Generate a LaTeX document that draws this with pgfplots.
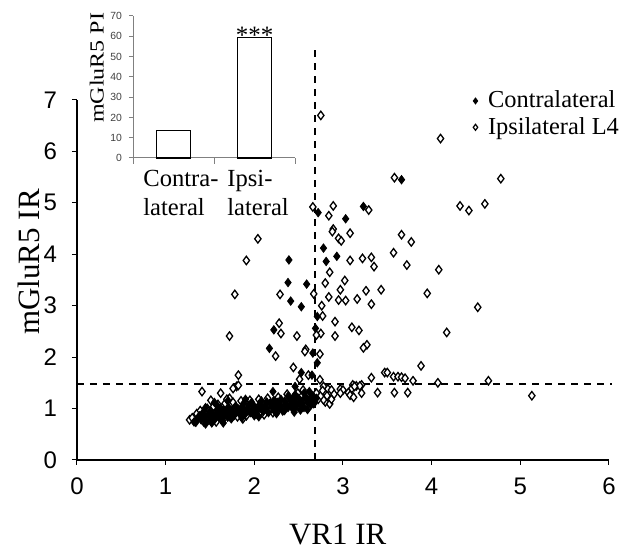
\documentclass[border=0pt]{standalone}
\usepackage{pgfplots}
\usepackage{pgfplotstable}
\usepackage{fontspec}
\setmainfont{Liberation Serif}
\setsansfont{Liberation Sans}
\pgfplotsset{compat=1.18}
\pgfplotsset{markleg/.style={legend image code/.code={\draw[##1] plot coordinates {(0pt,0pt)}; \path (-2pt,0pt) (4.5pt,0pt);}}}

\pgfplotstableread{
x y
3.66 5.45
2.72 4.81
3.03 4.69
3.23 4.93
2.78 4.12
2.93 3.96
2.81 3.86
2.39 3.89
2.38 3.45
2.59 3.42
2.41 3.09
2.53 2.98
2.71 2.79
2.69 2.56
2.22 2.53
2.17 2.17
2.66 2.08
2.71 1.89
2.53 1.70
2.65 1.65
2.46 1.43
2.21 1.33
1.34 0.73
1.32 0.74
1.36 0.80
1.38 0.86
1.40 0.78
1.42 0.92
1.44 0.84
1.46 0.76
1.48 0.88
1.50 0.95
1.51 0.82
1.53 0.90
1.55 0.78
1.56 0.86
1.58 0.96
1.60 0.84
1.61 0.92
1.63 0.80
1.65 0.98
1.66 0.88
1.68 0.94
1.70 0.83
1.71 1.02
1.73 0.90
1.75 0.97
1.77 0.86
1.79 1.05
1.80 0.93
1.82 0.99
1.84 0.88
1.86 1.03
1.88 0.95
1.90 0.90
1.92 1.00
1.94 1.07
1.96 0.92
1.98 0.98
2.00 1.04
2.02 0.89
2.04 0.97
2.06 1.08
2.08 1.00
2.10 0.94
2.12 1.06
2.14 1.01
2.16 0.92
2.18 1.10
2.20 1.03
2.22 0.97
2.24 1.08
2.26 1.12
2.28 1.00
2.30 1.05
2.32 0.95
2.34 1.14
2.36 1.07
2.38 1.02
2.40 1.17
2.42 1.10
2.44 0.98
2.46 1.13
2.48 1.05
2.50 1.20
2.52 1.09
2.54 1.15
2.56 1.02
2.58 1.22
2.60 1.12
2.62 1.17
2.64 1.07
2.66 1.25
2.68 1.14
2.70 1.20
2.38 1.24
2.30 1.18
2.22 1.16
2.14 1.13
2.46 1.27
2.56 1.30
2.62 1.33
1.97 1.12
1.88 1.10
2.08 1.15
2.52 0.97
2.44 1.22
1.74 0.80
1.62 1.00
1.52 0.72
1.45 1.02
1.58 1.06
1.86 0.82
2.00 0.86
2.34 0.96
1.55 1.12
1.70 1.15
1.90 1.18
2.05 0.84
2.25 0.90
2.45 0.93
2.60 0.98
1.45 0.70
1.65 0.72
}\contra

\pgfplotstableread{
x y
2.75 6.70
4.10 6.25
3.58 5.49
4.78 5.47
2.66 4.92
2.89 4.94
3.29 4.86
4.32 4.94
4.42 4.85
4.60 4.98
2.84 4.75
2.89 4.49
2.88 4.44
3.08 4.41
3.66 4.38
2.95 4.31
2.98 4.26
2.04 4.30
3.77 4.24
3.57 4.03
3.32 3.94
3.22 3.92
3.08 3.88
1.91 3.88
3.72 3.79
3.35 3.76
4.08 3.70
2.85 3.65
3.02 3.49
2.80 3.44
2.97 3.31
3.26 3.29
3.43 3.31
2.67 3.23
1.78 3.22
2.29 3.22
3.95 3.24
2.84 3.17
2.95 3.11
3.03 3.10
3.16 3.13
3.32 3.03
2.76 3.00
4.52 2.97
2.77 2.80
2.91 2.69
2.28 2.66
3.10 2.58
3.18 2.52
4.17 2.48
2.75 2.46
2.30 2.46
2.48 2.41
1.72 2.41
2.91 2.41
2.70 2.43
3.27 2.24
3.23 2.18
2.58 2.15
2.57 2.11
2.24 2.02
2.74 2.06
3.88 1.83
2.44 1.80
1.82 1.65
2.61 1.65
3.47 1.70
3.50 1.70
3.57 1.62
3.62 1.62
3.66 1.61
3.70 1.59
3.32 1.60
2.51 1.57
2.74 1.56
3.79 1.54
4.64 1.54
4.07 1.50
3.21 1.46
3.11 1.46
3.15 1.44
3.19 1.44
1.80 1.43
1.76 1.39
1.82 1.45
2.78 1.43
2.83 1.38
2.87 1.36
2.97 1.38
3.00 1.36
3.10 1.39
3.13 1.43
3.39 1.31
3.58 1.31
3.73 1.31
3.21 1.30
2.97 1.30
3.06 1.31
3.08 1.26
3.12 1.22
5.13 1.25
1.41 1.33
2.55 1.36
1.62 1.30
1.72 1.20
2.80 1.13
2.85 1.09
2.87 1.18
2.78 1.17
1.27 0.78
1.30 0.82
1.35 0.90
1.39 0.96
1.43 0.74
1.47 1.00
1.50 0.86
1.54 1.04
1.57 0.74
1.59 1.08
1.64 0.77
1.67 1.10
1.72 0.85
1.76 1.12
1.81 0.84
1.85 1.15
1.91 0.86
1.95 1.16
2.01 0.95
2.05 1.18
2.11 0.88
2.15 1.20
2.21 0.92
2.27 1.22
2.33 1.00
2.37 1.28
2.43 1.04
2.49 1.30
2.53 1.10
2.59 1.05
2.63 1.24
2.67 1.10
2.70 1.30
2.72 1.18
2.75 1.25
2.77 1.35
2.82 1.25
2.90 1.28
1.51 1.16
1.69 1.18
1.87 0.80
}\ipsi

\begin{document}
\begin{tikzpicture}
\path[use as bounding box] (0,0) rectangle (311pt,275.5pt);
\begin{axis}[
  at={(38.5pt,45.5pt)}, anchor=south west,
  scale only axis, width=266pt, height=180pt,
  xmin=0, xmax=6, ymin=0, ymax=7,
  xtick={0,1,...,6}, ytick={0,1,...,7},
  axis x line*=bottom, axis y line*=left,
  axis line style={line width=0.6pt, black},
  tick align=outside, major tick length=2.5pt,
  tick style={line width=0.5pt, black},
  /pgf/number format/assume math mode=true,
  tick label style={font=\sffamily\fontsize{12}{12}\selectfont},
  xticklabel style={yshift=-3pt},
  yticklabel style={xshift=-4pt},
  clip=false,
  legend style={at={(axis description cs:0.74,1.035)}, anchor=north west, draw=none, fill=none,
    font=\fontsize{12.2}{12.2}\selectfont, row sep=0pt, inner sep=0pt,
    nodes={inner sep=1.6pt}, cells={anchor=west}},
]
\addlegendimage{only marks, mark=diamond*, mark size=1.5pt, black, markleg}
\addlegendentry{Contralateral}
\addlegendimage{only marks, mark=diamond*, mark size=1.5pt, mark options={fill=white, draw=black, line width=0.6pt}, markleg}
\addlegendentry{Ipsilateral L4}
\addplot[forget plot, only marks, mark=diamond*, mark size=2.1pt, mark options={fill=white, draw=black, line width=0.65pt}] table[x=x,y=y] {\ipsi};
\addplot[forget plot, only marks, mark=diamond*, mark size=2.1pt, black] table[x=x,y=y] {\contra};
\addplot[forget plot, black, line width=1pt, dash pattern=on 3.5pt off 3pt] coordinates {(2.68,0) (2.68,8.07)};
\addplot[forget plot, black, line width=1pt, dash pattern=on 3.5pt off 3pt] coordinates {(0,1.48) (6.03,1.48)};
\node[font=\fontsize{15.5}{15.5}\selectfont] at (axis description cs:0.49,-0.208) {VR1 IR};
\node[rotate=90, font=\fontsize{15.5}{15.5}\selectfont] at (axis description cs:-0.09,0.55) {mGluR5 IR};
\end{axis}

\begin{axis}[
  at={(66.5pt,196.5pt)}, anchor=south west,
  scale only axis, width=81pt, height=71pt,
  xmin=0, xmax=2, ymin=0, ymax=70,
  axis x line*=bottom, axis y line*=left,
  axis line style={gray, line width=0.5pt},
  xtick={0.123,1.16}, xticklabels={{Contra-\\lateral},{Ipsi-\\lateral}},
  minor xtick={0,1,2},
  major x tick style={draw=none},
  minor tick length=3pt, major tick length=2pt,
  tick align=outside,
  tick style={gray, line width=0.5pt},
  ytick={0,10,...,70},
  /pgf/number format/assume math mode=true,
  yticklabel style={font=\sffamily\fontsize{5.2}{5.2}\selectfont, text=black!75},
  xticklabel style={anchor=north west, align=left, inner sep=0pt, font=\fontsize{12.3}{14.5}\selectfont, yshift=-4pt},
  clip=false,
]
\addplot[ybar, bar width=0.41, fill=white, draw=black, line width=0.6pt] coordinates {(0.5,13.5) (1.5,59.5)};
\node[anchor=base, inner sep=0pt, font=\fontsize{12.5}{12.5}\selectfont] at (axis cs:1.5,56.5) {***};
\node[rotate=90, xscale=1.2, anchor=base, inner sep=0pt, font=\fontsize{10}{10}\selectfont] at (axis description cs:-0.182,0.634) {mGluR5 PI};
\end{axis}
\end{tikzpicture}
\end{document}
